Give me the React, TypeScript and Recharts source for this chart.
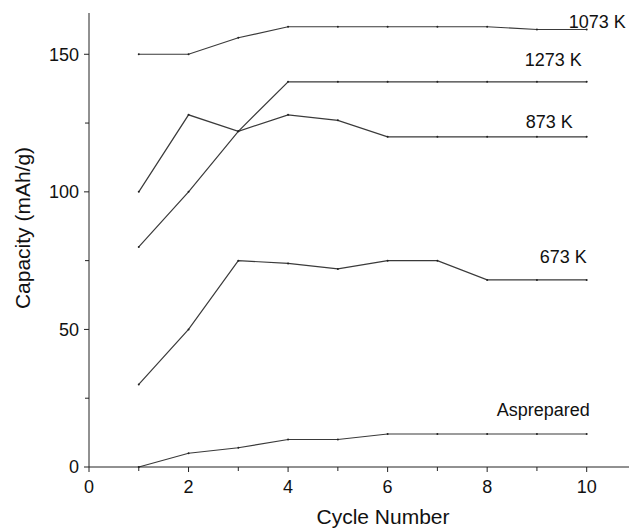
import React from "react";
import { LineChart, Line, XAxis, YAxis, LabelList } from "recharts";

const cycles = [1, 2, 3, 4, 5, 6, 7, 8, 9, 10];
const k1073 = [150, 150, 156, 160, 160, 160, 160, 160, 159, 159];
const k1273 = [80, 100, 122, 140, 140, 140, 140, 140, 140, 140];
const k873 = [100, 128, 122, 128, 126, 120, 120, 120, 120, 120];
const k673 = [30, 50, 75, 74, 72, 75, 75, 68, 68, 68];
const asPrepared = [0, 5, 7, 10, 10, 12, 12, 12, 12, 12];

const seriesNames = ["1073 K", "1273 K", "873 K", "673 K", "Asprepared"];
const xTicks = [0, 1, 2, 3, 4, 5, 6, 7, 8, 9, 10];
const xLabeled = [0, 2, 4, 6, 8, 10];
const yTicks = [0, 25, 50, 75, 100, 125, 150];
const yLabeled = [0, 50, 100, 150];

const data = cycles.map((c, i) => ({
  cycle: c,
  s0: k1073[i],
  s1: k1273[i],
  s2: k873[i],
  s3: k673[i],
  s4: asPrepared[i],
}));

const labelOffsets = [
  { dx: 39, dy: -8 },
  { dx: -5, dy: -22 },
  { dx: -14, dy: -15 },
  { dx: 0, dy: -23 },
  { dx: 3, dy: -24 },
];

const FONT = "'Liberation Sans', Arial, sans-serif";
const LINE = "#3a3a3a";

const XTick = (props: any) => {
  const { x, y, payload } = props;
  const v = payload.value;
  const major = xLabeled.includes(v);
  const ay = y - 13;
  return (
    <g>
      <line x1={x} x2={x} y1={ay} y2={ay + (major ? 5 : 4)} stroke="#222" strokeWidth={1} />
      {major && (
        <text x={x} y={y} dy="0.71em" textAnchor="middle" fontSize={18} fill="#111" fontFamily={FONT}>
          {v}
        </text>
      )}
    </g>
  );
};

const YTick = (props: any) => {
  const { x, y, payload } = props;
  const v = payload.value;
  const major = yLabeled.includes(v);
  const ax = x + 10;
  return (
    <g>
      <line x1={ax} x2={ax - (major ? 5 : 4)} y1={y} y2={y} stroke="#222" strokeWidth={1} />
      {major && (
        <text x={x} y={y} dy="0.355em" textAnchor="end" fontSize={18} fill="#111" fontFamily={FONT}>
          {v}
        </text>
      )}
    </g>
  );
};

const makeLabel = (idx: number) => (props: any) => {
  const { x, y, index } = props;
  if (index !== cycles.length - 1) return null;
  const o = labelOffsets[idx];
  return (
    <text x={x + o.dx} y={y + o.dy} dy="0.355em" textAnchor="end" fontSize={18} fill="#111" fontFamily={FONT}>
      {seriesNames[idx]}
    </text>
  );
};

const XTitle = (props: any) => {
  const vb = props.viewBox;
  const cx = vb.x + vb.width / 2 + 24;
  const cy = vb.y + vb.height - 12;
  return (
    <text x={cx} y={cy} dy="0.355em" textAnchor="middle" fontSize={21} fill="#111" fontFamily={FONT}>
      Cycle Number
    </text>
  );
};

const YTitle = (props: any) => {
  const vb = props.viewBox;
  const cx = vb.x + 23;
  const cy = vb.y + vb.height / 2 - 12;
  return (
    <text
      x={cx}
      y={cy}
      dy="0.355em"
      textAnchor="middle"
      fontSize={21}
      fill="#111"
      fontFamily={FONT}
      transform={`rotate(-90 ${cx} ${cy})`}
    >
      Capacity (mAh/g)
    </text>
  );
};

export default function App() {
  const keys = ["s0", "s1", "s2", "s3", "s4"];
  return (
    <div style={{ position: "absolute", left: 0, top: 0, width: 629, height: 529, background: "#fff" }}>
      <LineChart width={629} height={529} data={data} margin={{ top: 13, right: 0, bottom: 0, left: 0 }}>
        <XAxis
          xAxisId="top"
          orientation="top"
          dataKey="cycle"
          type="number"
          domain={[0, 10.85]}
          tick={false}
          tickLine={false}
          axisLine={{ stroke: "#222", strokeWidth: 1.4 }}
          height={0}
        />
        <XAxis
          dataKey="cycle"
          type="number"
          domain={[0, 10.85]}
          ticks={xTicks}
          interval={0}
          tick={<XTick />}
          tickLine={false}
          tickSize={0}
          tickMargin={13}
          axisLine={{ stroke: "#222", strokeWidth: 1 }}
          height={62}
          label={<XTitle />}
        />
        <YAxis
          type="number"
          domain={[0, 165]}
          ticks={yTicks}
          interval={0}
          tick={<YTick />}
          tickLine={false}
          tickSize={0}
          tickMargin={10}
          axisLine={{ stroke: "#222", strokeWidth: 1 }}
          width={89}
          label={<YTitle />}
        />
        {keys.map((k, i) => (
          <Line
            key={k}
            xAxisId={0}
            dataKey={k}
            type="linear"
            stroke={LINE}
            strokeWidth={1.2}
            dot={{ r: 1, fill: "#222", stroke: "none" }}
            activeDot={false}
            isAnimationActive={false}
          >
            <LabelList dataKey={k} content={makeLabel(i)} />
          </Line>
        ))}
      </LineChart>
    </div>
  );
}
